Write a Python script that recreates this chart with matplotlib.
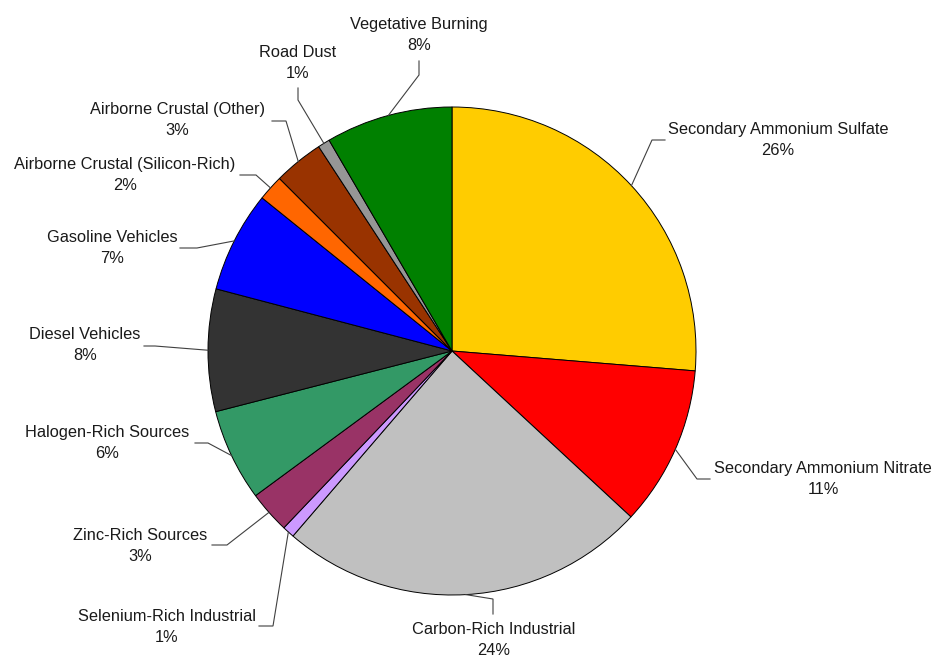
import numpy as np
import matplotlib
matplotlib.use('Agg')
import matplotlib.pyplot as plt

# source contributions (%)
sources = ['Secondary Ammonium Sulfate', 'Secondary Ammonium Nitrate', 'Carbon-Rich Industrial',
           'Selenium-Rich Industrial', 'Zinc-Rich Sources', 'Halogen-Rich Sources',
           'Diesel Vehicles', 'Gasoline Vehicles', 'Airborne Crustal (Silicon-Rich)',
           'Airborne Crustal (Other)', 'Road Dust', 'Vegetative Burning']
shares = [26.3, 10.6, 24.4, 0.8, 2.8, 6.1, 8.1, 6.7, 1.7, 3.3, 0.8, 8.4]
colors = ['#FFCC00', '#FF0000', '#C0C0C0', '#CC99FF', '#993366', '#339966',
          '#333333', '#0000FF', '#FF6600', '#993300', '#969696', '#008000']

# label layout in pixels (x, y from top): text centre, elbow, end of leader
text_xy = [(778, 140), (823, 479), (494, 640), (167, 627), (140, 546), (107, 443),
           (85, 345), (112, 248), (125, 175), (177, 120), (298, 63), (419, 35)]
elbow_xy = [(652, 140), (697, 479), (493, 599), (273, 626), (227, 545), (208, 443),
            (155, 346), (197, 248), (256, 175), (286, 121), (298, 100), (419, 75)]
end_xy = [(665, 140), (710, 479), (493, 614), (259, 626), (212, 545), (195, 443),
          (144, 346), (180, 248), (240, 175), (272, 121), (298, 88), (419, 61)]

W, H = 935, 658
cx, cy, r = 452, 351, 244


def py(y):
    return H - y


fig = plt.figure(figsize=(W / 100, H / 100), dpi=100)
ax = fig.add_axes([0, 0, 1, 1])

wedges, _ = ax.pie(shares, colors=colors, startangle=90, counterclock=False,
                   center=(cx, py(cy)), radius=r,
                   wedgeprops=dict(edgecolor='black', linewidth=0.7))
ax.set_xlim(0, W)
ax.set_ylim(0, H)
ax.set_aspect('equal')
ax.axis('off')

total = sum(shares)
for i, w in enumerate(wedges):
    ang = np.deg2rad((w.theta1 + w.theta2) / 2)
    sx = cx + r * np.cos(ang)
    sy = py(cy) + r * np.sin(ang)
    ex, ey = elbow_xy[i]
    tx, ty = end_xy[i]
    ax.plot([sx, ex, tx], [sy, py(ey), py(ty)], color='#404040', lw=0.8,
            solid_joinstyle='miter')
    lx, ly = text_xy[i]
    ax.text(lx, py(ly), f'{sources[i]}\n{shares[i] / total * 100:.0f}%',
            ha='center', va='center', fontsize=11.8, family='Liberation Sans',
            color='#1a1a1a', linespacing=1.5)

fig.savefig('out.png', dpi=100)
